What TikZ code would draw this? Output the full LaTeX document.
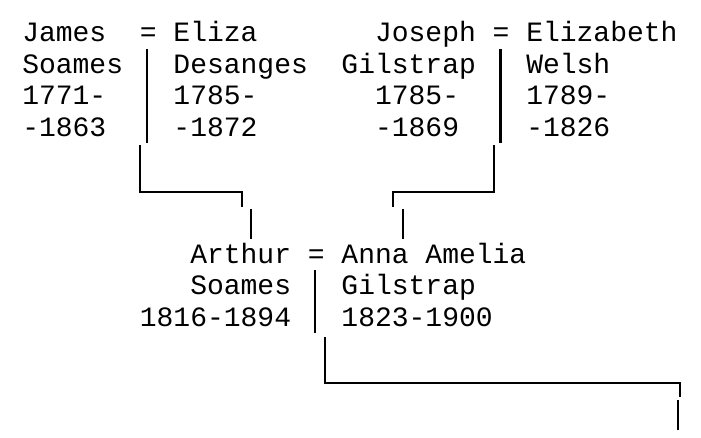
\documentclass[tikz,border=0pt]{standalone}
\usepackage{fontspec}
\setmonofont{Liberation Mono}
\begin{document}
\begin{tikzpicture}[x=0.75pt,y=-0.75pt,
    every node/.style={font=\ttfamily\fontsize{21}{23.6}\selectfont,
      inner sep=0pt, anchor=base west, align=left},
    line/.style={line width=2pt}]
    \useasboundingbox (0,0) rectangle (701,437);
    % multi-line nodes sit on the baseline of their last line
    \node (james) at (22, 136) {James\\Soames\\1771-\\-1863};
    \node (jeq) at (139.6, 41.5) {=};
    \node (eliza) at (173.2, 136) {Eliza\\Desanges\\1785-\\-1872};
    \node (joseph) at (341.2, 136) {\hphantom{Gi}Joseph\\Gilstrap\\\hphantom{Gi}1785-\\\hphantom{Gi}-1869};
    \node (geq) at (492.4, 41.5) {=};
    \node (elizabeth) at (526, 136) {Elizabeth\\Welsh\\1789-\\-1826};
    \node (arthur) at (139.6, 326) {\hphantom{181}Arthur\\\hphantom{181}Soames\\1816-1894};
    \node (aeq) at (307.6, 263) {=};
    \node (anna) at (341.2, 326) {Anna Amelia\\Gilstrap\\1823-1900};
    \coordinate (j1) at (147, 49);
    \coordinate (j2) at (147, 143);
    \coordinate (j3) at (140, 145);
    \coordinate (j4) at (140, 192);
    \coordinate (j5) at (242, 192);
    \coordinate (j6) at (242, 207);
    \coordinate (j7) at (251, 209);
    \coordinate (j8) at (251, 239);
    \coordinate (g1) at (500.7, 49);
    \coordinate (g2) at (500.7, 143);
    \coordinate (g3) at (494, 145);
    \coordinate (g4) at (494, 192);
    \coordinate (g5) at (393, 192);
    \coordinate (g6) at (393, 207);
    \coordinate (g7) at (403, 209);
    \coordinate (g8) at (403, 239);
    \coordinate (a1) at (315, 270);
    \coordinate (a2) at (315, 333);
    \coordinate (a3) at (325, 337);
    \coordinate (a4) at (325, 383);
    \coordinate (a5) at (680, 383);
    \coordinate (a6) at (680, 397);
    \coordinate (a7) at (678, 400);
    \coordinate (a8) at (678, 430);
    \draw [line] (j1) -- (j2);
    \draw [line] (j3) -- (j4) -- (j5) -- (j6);
    \draw [line] (j7) -- (j8);
    \draw [line] (g1) -- (g2);
    \draw [line] (g3) -- (g4) -- (g5) -- (g6);
    \draw [line] (g7) -- (g8);
    \draw [line] (a1) -- (a2);
    \draw [line] (a3) -- (a4) -- (a5) -- (a6);
    \draw [line] (a7) -- (a8);
  \end{tikzpicture}
\end{document}
